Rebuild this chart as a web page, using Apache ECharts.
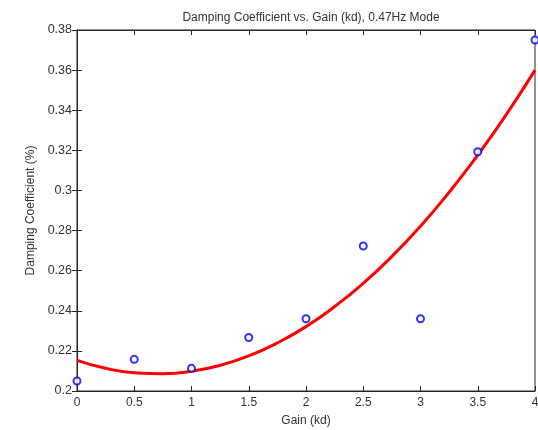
<!DOCTYPE html>
<html>
<head>
<meta charset="utf-8">
<script src="https://cdn.jsdelivr.net/npm/echarts@6/dist/echarts.min.js"></script>
<style>
  html, body { margin: 0; padding: 0; background: #fff; }
  #chart { width: 538px; height: 430px; }
</style>
</head>
<body>
<div id="chart"></div>
<script>
// measured points
const gains = [0, 0.5, 1, 1.5, 2, 2.5, 3, 3.5, 4]
const damping = [0.205, 0.2158, 0.2113, 0.2267, 0.236, 0.2723, 0.236, 0.3193, 0.375]

// red fit curve, every 0.25
const fitGains = [0, 0.25, 0.5, 0.75, 1, 1.25, 1.5, 1.75, 2, 2.25, 2.5, 2.75, 3, 3.25, 3.5, 3.75, 4]
const fitValues = [0.2153, 0.2113, 0.2091, 0.2086, 0.2098, 0.2128, 0.2175, 0.224, 0.2321, 0.2421, 0.2537, 0.2671, 0.2822, 0.2991, 0.3176, 0.3379, 0.36]

const font = 'Liberation Sans, Arial, sans-serif'
const textColor = '#333'

const chart = echarts.init(document.getElementById('chart'))

const tickStyle = { inside: true, length: 5, lineStyle: { color: '#262626' } }
const lineStyle = { lineStyle: { color: '#262626', width: 1 } }

const option = {
  animation: false,
  backgroundColor: '#fff',
  title: {
    text: 'Damping Coefficient vs. Gain (kd), 0.47Hz Mode',
    left: 306,
    textAlign: 'center',
    top: 7,
    textStyle: { fontFamily: font, fontSize: 12, fontWeight: 'normal', color: textColor }
  },
  grid: {
    left: 77,
    right: 3,
    top: 30,
    bottom: 39,
    outerBoundsMode: 'none',
    containLabel: false,
    show: true,
    borderColor: '#262626',
    borderWidth: 1
  },
  xAxis: [
    {
      type: 'value',
      min: 0,
      max: 4,
      interval: 0.5,
      name: 'Gain (kd)',
      nameLocation: 'middle',
      nameGap: 24,
      nameTextStyle: { fontFamily: font, fontSize: 12, color: textColor },
      axisLine: lineStyle,
      axisTick: tickStyle,
      axisLabel: { fontFamily: font, fontSize: 12, color: textColor, margin: 6 },
      splitLine: { show: false }
    },
    {
      type: 'value',
      position: 'top',
      min: 0,
      max: 4,
      interval: 0.5,
      axisLine: lineStyle,
      axisTick: tickStyle,
      axisLabel: { show: false },
      splitLine: { show: false }
    }
  ],
  yAxis: [
    {
      type: 'value',
      min: 0.2,
      max: 0.38,
      interval: 0.02,
      name: 'Damping Coefficient (%)',
      nameLocation: 'middle',
      nameGap: 39,
      nameTextStyle: { fontFamily: font, fontSize: 12, color: textColor },
      axisLine: lineStyle,
      axisTick: tickStyle,
      axisLabel: { fontFamily: font, fontSize: 12.5, color: textColor, margin: 5 },
      splitLine: { show: false }
    },
    {
      type: 'value',
      position: 'right',
      min: 0.2,
      max: 0.38,
      interval: 0.02,
      axisLine: lineStyle,
      axisTick: tickStyle,
      axisLabel: { show: false },
      splitLine: { show: false }
    }
  ],
  series: [
    {
      name: 'fit',
      type: 'line',
      smooth: true,
      showSymbol: false,
      data: fitGains.map((g, i) => [g, fitValues[i]]),
      lineStyle: { color: '#ff0000', width: 3 },
      z: 2
    },
    {
      name: 'data',
      type: 'scatter',
      symbol: 'emptyCircle',
      symbolSize: 7,
      clip: false,
      data: gains.map((g, i) => [g, damping[i]]),
      itemStyle: { color: '#0000ff', borderColor: '#0000ff', borderWidth: 2 },
      z: 3
    }
  ]
}

chart.setOption(option)

window.addEventListener('resize', () => {
  chart.resize()
})
</script>
</body>
</html>
